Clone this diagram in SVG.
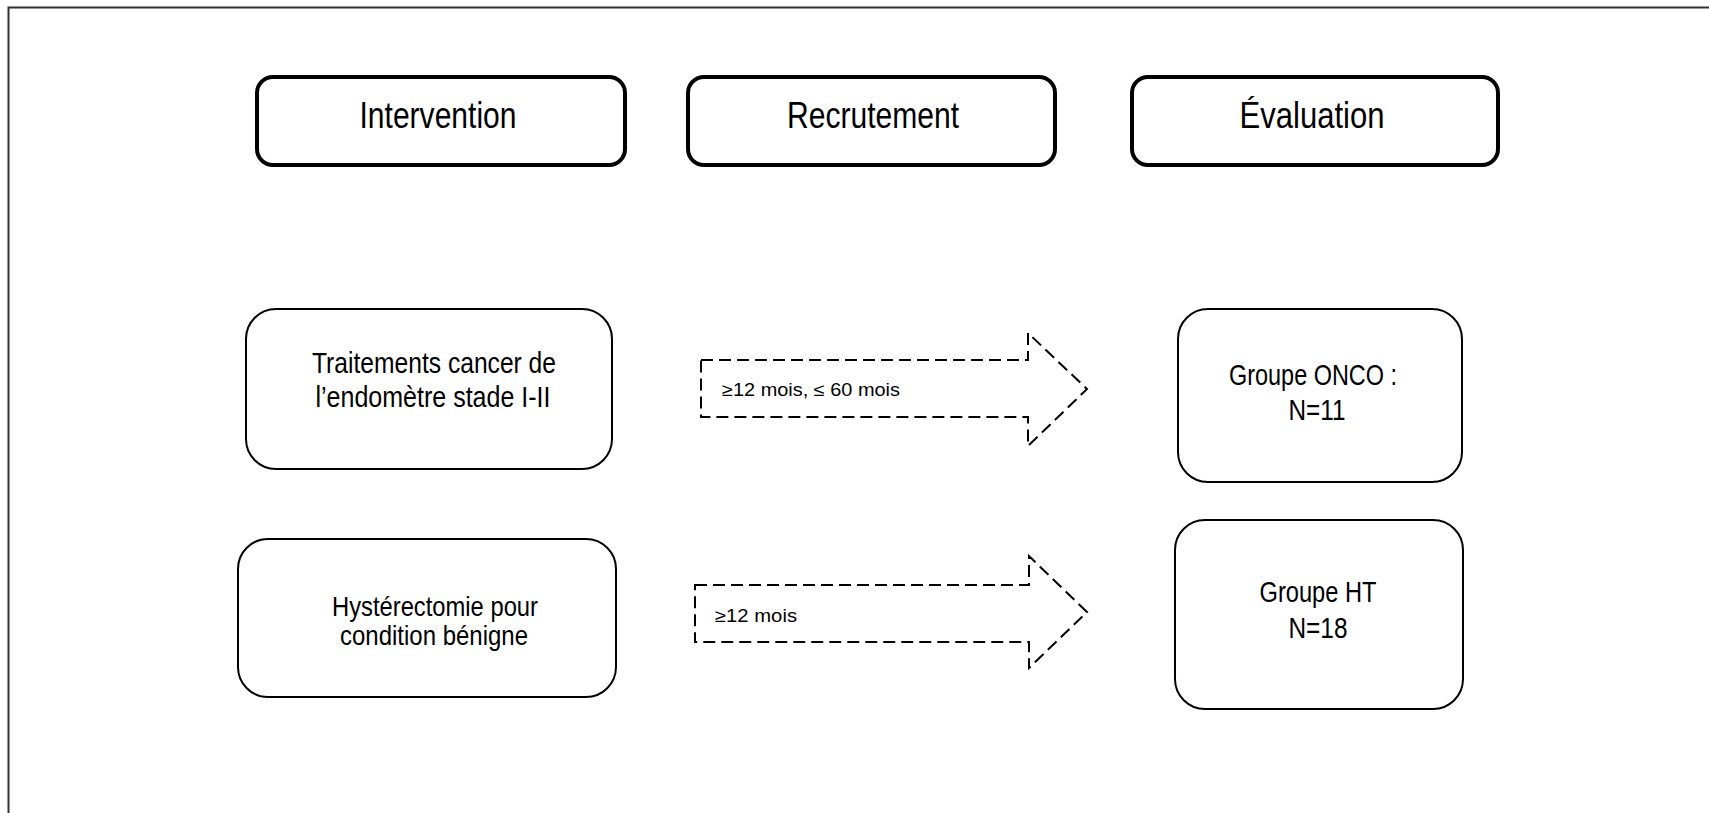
<svg xmlns="http://www.w3.org/2000/svg" width="1709" height="813" viewBox="0 0 1709 813">
  <style>
    .hdr { fill: #fff; stroke: #000; stroke-width: 4; }
    .box { fill: #fff; stroke: #000; stroke-width: 2; }
    .arrow { fill: #fff; stroke: #000; stroke-width: 2; stroke-dasharray: 12 6; }
    text { font-family: "Liberation Sans", Arial, sans-serif; fill: #000; text-anchor: middle; }
    .th { font-size: 37px; }
    .tb { font-size: 28px; }
    .tb2 { font-size: 30px; }
    .tg { font-size: 30px; }
    .ta { font-size: 18px; text-anchor: start; }
  </style>
  <rect x="0" y="0" width="1709" height="813" fill="#fff"/>
  <path d="M8.5,813 L8.5,7.5 L1709,7.5" fill="none" stroke="#333" stroke-width="2"/>

  <g id="connectors">
    <polygon class="arrow" points="701,360 1028,360 1028,333 1087,389 1028,446 1028,417 701,417"/>
    <text class="ta" x="722" y="396" textLength="178" lengthAdjust="spacingAndGlyphs">≥12 mois, ≤ 60 mois</text>
    <polygon class="arrow" points="695,585 1029,585 1029,556 1087,612 1029,668 1029,642 695,642"/>
    <text class="ta" x="715" y="622" textLength="82" lengthAdjust="spacingAndGlyphs">≥12 mois</text>
  </g>

  <g id="node-intervention">
    <rect class="hdr" x="257" y="77" width="368" height="88" rx="16"/>
    <text class="th" x="438" y="128" textLength="157" lengthAdjust="spacingAndGlyphs">Intervention</text>
  </g>
  <g id="node-recrutement">
    <rect class="hdr" x="688" y="77" width="367" height="88" rx="16"/>
    <text class="th" x="873" y="128" textLength="172" lengthAdjust="spacingAndGlyphs">Recrutement</text>
  </g>
  <g id="node-evaluation">
    <rect class="hdr" x="1132" y="77" width="366" height="88" rx="16"/>
    <text class="th" x="1312" y="128" textLength="145" lengthAdjust="spacingAndGlyphs">Évaluation</text>
  </g>

  <g id="node-traitements">
    <rect class="box" x="246" y="309" width="366" height="160" rx="30"/>
    <text class="tb2" x="434" y="373" textLength="244" lengthAdjust="spacingAndGlyphs">Traitements cancer de</text>
    <text class="tb2" x="433" y="407" textLength="235" lengthAdjust="spacingAndGlyphs">l’endomètre stade I-II</text>
  </g>
  <g id="node-hysterectomie">
    <rect class="box" x="238" y="539" width="378" height="158" rx="30"/>
    <text class="tb" x="435" y="616" textLength="206" lengthAdjust="spacingAndGlyphs">Hystérectomie pour</text>
    <text class="tb" x="434" y="645" textLength="188" lengthAdjust="spacingAndGlyphs">condition bénigne</text>
  </g>
  <g id="node-onco">
    <rect class="box" x="1178" y="309" width="284" height="173" rx="30"/>
    <text class="tg" x="1313" y="385" textLength="168" lengthAdjust="spacingAndGlyphs">Groupe ONCO :</text>
    <text class="tg" x="1317" y="420" textLength="57" lengthAdjust="spacingAndGlyphs">N=11</text>
  </g>
  <g id="node-ht">
    <rect class="box" x="1175" y="520" width="288" height="189" rx="30"/>
    <text class="tg" x="1318" y="602" textLength="117" lengthAdjust="spacingAndGlyphs">Groupe HT</text>
    <text class="tg" x="1318" y="638" textLength="59" lengthAdjust="spacingAndGlyphs">N=18</text>
  </g>
</svg>
